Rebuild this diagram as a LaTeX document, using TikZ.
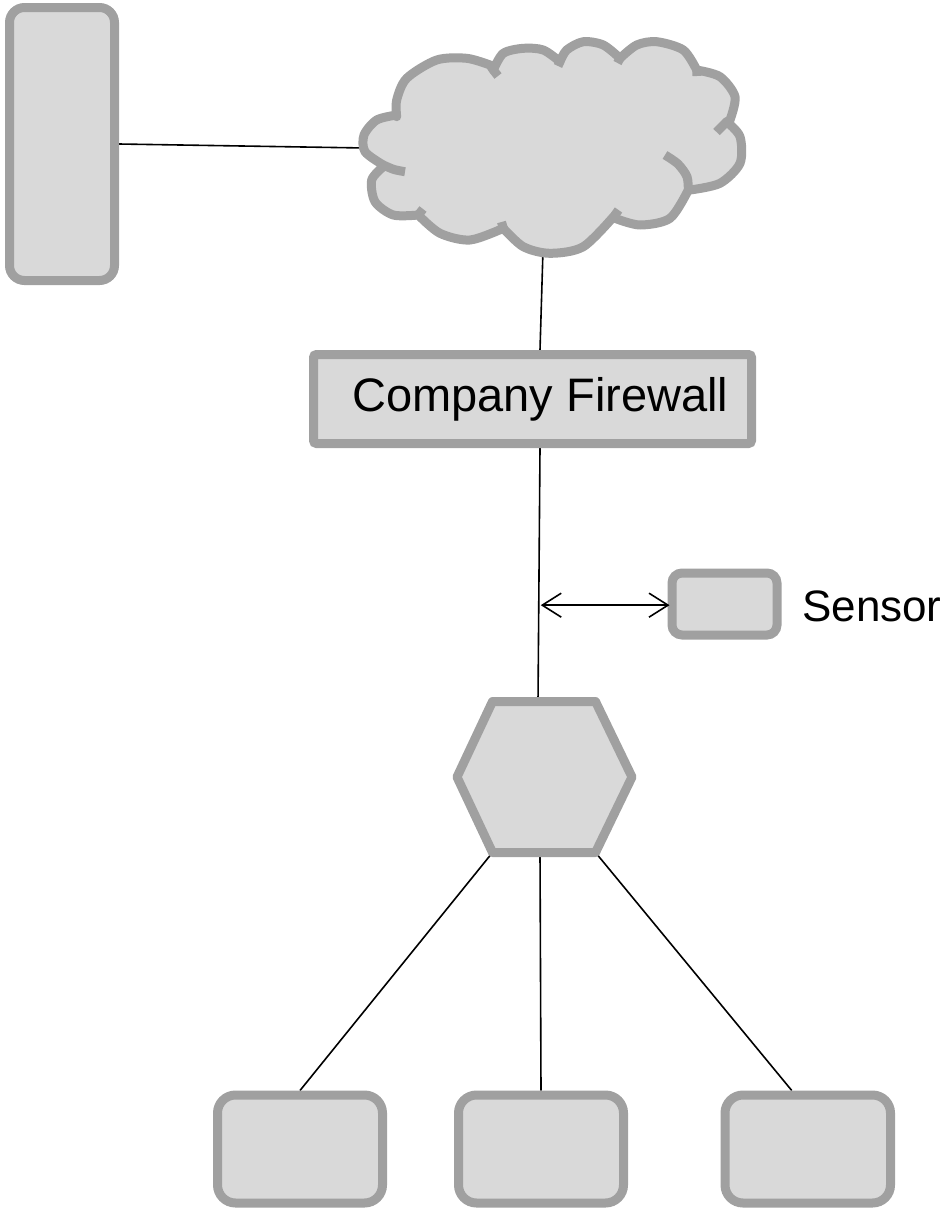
\documentclass[tikz,border=0pt]{standalone}
\usepackage{fontspec}
\setmainfont{Liberation Sans}
\usetikzlibrary{arrows.meta,calc,backgrounds}
\definecolor{fillc}{HTML}{D9D9D9}
\definecolor{bord}{HTML}{A0A0A0}
\tikzset{
  box/.style={draw=bord, fill=fillc, line width=9pt, inner sep=0pt, outer sep=4.5pt},
  conn/.style={line width=1.6pt, black},
  lbl/.style={font=\fontsize{47}{56}\selectfont, inner sep=0pt, text=black},
  shapeline/.style={draw=bord, fill=fillc, line width=9pt, line join=round},
  stub/.style={draw=bord, line width=9pt, line cap=butt}
}
\begin{document}
\begin{tikzpicture}[x=1pt,y=-1pt]
\useasboundingbox (0,0) rectangle (951,1210);
% nodes
\node[box, rounded corners=15pt, minimum width=105pt, minimum height=273pt] (tall) at (62,144) {};
\node[box, rounded corners=3pt, minimum width=438pt, minimum height=89pt] (fw) at (532.5,399) {};
\node[lbl, anchor=base west] (fwlabel) at (352,411) {Company Firewall};
\node[box, rounded corners=10pt, minimum width=105pt, minimum height=62pt] (sens) at (724.5,604) {};
\node[lbl, font=\fontsize{44}{52}\selectfont, anchor=base west] (senslabel) at (802,621) {Sensor};
\node[box, rounded corners=18pt, minimum width=165pt, minimum height=108pt] (b1) at (300,1149) {};
\node[box, rounded corners=18pt, minimum width=165pt, minimum height=108pt] (b2) at (541,1149) {};
\node[box, rounded corners=18pt, minimum width=165.5pt, minimum height=108pt] (b3) at (807.75,1149) {};
% hexagon
\path[shapeline] (492.5,701.5) -- (595.5,701.5) -- (632,777) -- (595.5,852.5) -- (492.5,852.5) -- (457,777) -- cycle;
\coordinate (hexT) at (538,701.5);
\coordinate (hexBL) at (492.5,852.5);
\coordinate (hexB) at (540,852.5);
\coordinate (hexBR) at (595.5,852.5);
% cloud
\path[shapeline]
  (396.7,115) -- plot[smooth] coordinates {(396.7,115) (376.7,120) (364,135) (365,151.7) (383.3,165)}
  -- plot[smooth] coordinates {(383.3,166.7) (371.7,180) (375,201.7) (393.3,215) (418.3,215)}
  -- plot[smooth] coordinates {(418.3,215) (440,233.3) (470,240) (503.3,228.3)}
  -- plot[smooth] coordinates {(503.3,228.3) (523.3,246.7) (550,253.3) (583.3,246.7) (615,215)}
  -- plot[smooth] coordinates {(615,218.3) (640,225) (670,218.3) (688.3,190)}
  -- plot[smooth] coordinates {(690,190) (720,183.3) (740,163.3) (740,136.7) (726.7,121.7)}
  -- plot[smooth] coordinates {(730,120) (735,96.7) (720,76.7) (696.7,70)}
  -- plot[smooth] coordinates {(696.7,70) (683.3,50) (656.7,41.7) (636.7,45) (620,58.3)}
  -- plot[smooth] coordinates {(620,58.3) (603.3,45) (583.3,41.7) (566.7,50) (560,61.7)}
  -- plot[smooth] coordinates {(560,61.7) (543.3,50) (523.3,48.3) (503.3,53.3) (493.3,70)}
  -- plot[smooth] coordinates {(490,65) (466.7,58.3) (436.7,60) (406.7,78.3) (396.7,100) (396.7,116.7)}
  -- cycle;
% cloud inner strokes
\draw[stub] plot[smooth] coordinates {(383.3,165) (394,169.5) (405,171.7)};
\draw[stub] (418.3,215) -- (423,209);
\draw[stub] (503.3,228.3) -- (501.5,222);
\draw[stub] (615,215) -- (618.5,210);
\draw[stub] plot[smooth] coordinates {(688.3,190) (687,176.7) (678,164) (665,155)};
\draw[stub] (726.7,121.7) -- (716.5,132);
\draw[stub] (696.7,70) -- (697,76);
\draw[stub] (620,58.3) -- (617.5,63);
\draw[stub] (560,61.7) -- (558,66);
\draw[stub] (493.3,70) -- (498,76);
\coordinate (cloudL) at (365,148);
\coordinate (cloudB) at (543,250);
% connectors
\begin{scope}[on background layer]
\draw[conn] (tall.east) -- (cloudL);
\draw[conn] (cloudB) -- ([xshift=7.5pt]fw.north);
\draw[conn] ([xshift=7.5pt]fw.south) -- (hexT);
\coordinate (tap) at ($([xshift=7.5pt]fw.south)!0.62!(hexT)$);
\draw[conn] (hexBL) -- (b1.north);
\draw[conn] (hexB) -- (b2.north);
\draw[conn] (hexBR) -- ([xshift=-16pt]b3.north);
\end{scope}
\draw[conn, {Straight Barb[length=19pt,width=24pt]}-{Straight Barb[length=19pt,width=24pt]}] ([xshift=2pt]tap) -- ([xshift=2pt]tap -| sens.west);
\end{tikzpicture}
\end{document}
